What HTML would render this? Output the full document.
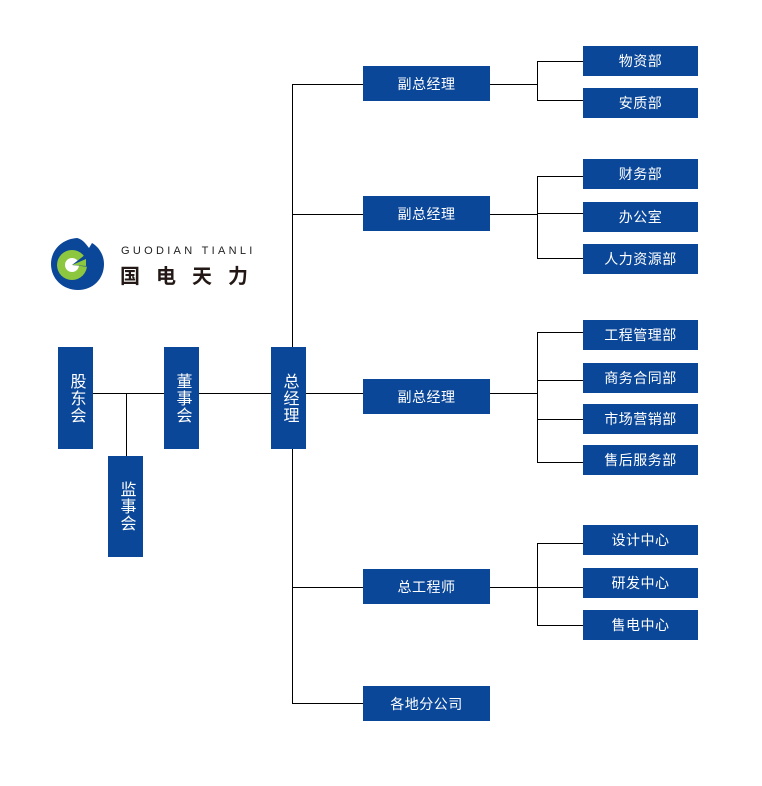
<!DOCTYPE html>
<html><head><meta charset="utf-8"><style>
body{margin:0;width:762px;height:786px;background:#fff;position:relative;overflow:hidden;font-family:"Liberation Sans","Noto Sans CJK SC",sans-serif}
.b{position:absolute;background:#0b4799;color:#fff;font-size:14px;display:flex;align-items:center;justify-content:center;letter-spacing:0.5px}
.v{writing-mode:vertical-rl;font-size:16px;letter-spacing:1px}
.h{position:absolute;height:1px;background:#000}
.l{position:absolute;width:1px;background:#000}
</style></head><body>
<svg style="position:absolute;left:50px;top:237px" width="56" height="54" viewBox="0 0 56 54">
<path d="M27 1 C12 2 1 13 1 27 C1 42 13 53 28 53 C43 53 54 42 54 27 C54 18 49 10 42 6 L39 11 C34 4 31 2 27 1Z" fill="#0b4799"/>
<circle cx="22" cy="28" r="15" fill="#8dc63f"/>
<circle cx="22" cy="28" r="7" fill="#fff"/>
<path d="M22 28 L40 14 L40 30 Z" fill="#0b4799"/>
<path d="M22 28 L36 22 L36 29 Z" fill="#8dc63f"/>
</svg>
<div style="position:absolute;left:121px;top:245px;font-size:11px;letter-spacing:3.3px;color:#222">GUODIAN TIANLI</div>
<div style="position:absolute;left:120px;top:260px;font-size:20px;font-weight:bold;letter-spacing:16px;color:#231815">国电天力</div>

<div class="h" style="left:93px;top:393px;width:178px"></div>
<div class="h" style="left:306px;top:393px;width:57px"></div>
<div class="l" style="left:126px;top:393px;height:63px"></div>
<div class="l" style="left:292px;top:84px;height:620px"></div>
<div class="h" style="left:292px;top:84px;width:71px"></div>
<div class="h" style="left:292px;top:214px;width:71px"></div>
<div class="h" style="left:292px;top:587px;width:71px"></div>
<div class="h" style="left:292px;top:703px;width:71px"></div>

<div class="h" style="left:490px;top:84px;width:47px"></div>
<div class="h" style="left:490px;top:214px;width:47px"></div>
<div class="h" style="left:490px;top:393px;width:47px"></div>
<div class="h" style="left:490px;top:587px;width:47px"></div>

<div class="l" style="left:537px;top:61px;height:39px"></div>
<div class="l" style="left:537px;top:176px;height:83px"></div>
<div class="l" style="left:537px;top:332px;height:130px"></div>
<div class="l" style="left:537px;top:543px;height:83px"></div>

<div class="h" style="left:537px;top:61px;width:46px"></div>
<div class="h" style="left:537px;top:100px;width:46px"></div>
<div class="h" style="left:537px;top:176px;width:46px"></div>
<div class="h" style="left:537px;top:213px;width:46px"></div>
<div class="h" style="left:537px;top:258px;width:46px"></div>
<div class="h" style="left:537px;top:332px;width:46px"></div>
<div class="h" style="left:537px;top:380px;width:46px"></div>
<div class="h" style="left:537px;top:419px;width:46px"></div>
<div class="h" style="left:537px;top:462px;width:46px"></div>
<div class="h" style="left:537px;top:543px;width:46px"></div>
<div class="h" style="left:537px;top:587px;width:46px"></div>
<div class="h" style="left:537px;top:625px;width:46px"></div>

<div class="b v" style="left:58px;top:347px;width:35px;height:102px">股东会</div>
<div class="b v" style="left:164px;top:347px;width:35px;height:102px">董事会</div>
<div class="b v" style="left:271px;top:347px;width:35px;height:102px">总经理</div>
<div class="b v" style="left:108px;top:456px;width:35px;height:101px">监事会</div>

<div class="b" style="left:363px;top:66px;width:127px;height:35px">副总经理</div>
<div class="b" style="left:363px;top:196px;width:127px;height:35px">副总经理</div>
<div class="b" style="left:363px;top:379px;width:127px;height:35px">副总经理</div>
<div class="b" style="left:363px;top:569px;width:127px;height:35px">总工程师</div>
<div class="b" style="left:363px;top:686px;width:127px;height:35px">各地分公司</div>

<div class="b" style="left:583px;top:46px;width:115px;height:30px">物资部</div>
<div class="b" style="left:583px;top:88px;width:115px;height:30px">安质部</div>
<div class="b" style="left:583px;top:159px;width:115px;height:30px">财务部</div>
<div class="b" style="left:583px;top:202px;width:115px;height:30px">办公室</div>
<div class="b" style="left:583px;top:244px;width:115px;height:30px">人力资源部</div>
<div class="b" style="left:583px;top:320px;width:115px;height:30px">工程管理部</div>
<div class="b" style="left:583px;top:363px;width:115px;height:30px">商务合同部</div>
<div class="b" style="left:583px;top:404px;width:115px;height:30px">市场营销部</div>
<div class="b" style="left:583px;top:445px;width:115px;height:30px">售后服务部</div>
<div class="b" style="left:583px;top:525px;width:115px;height:30px">设计中心</div>
<div class="b" style="left:583px;top:568px;width:115px;height:30px">研发中心</div>
<div class="b" style="left:583px;top:610px;width:115px;height:30px">售电中心</div>
</body></html>
